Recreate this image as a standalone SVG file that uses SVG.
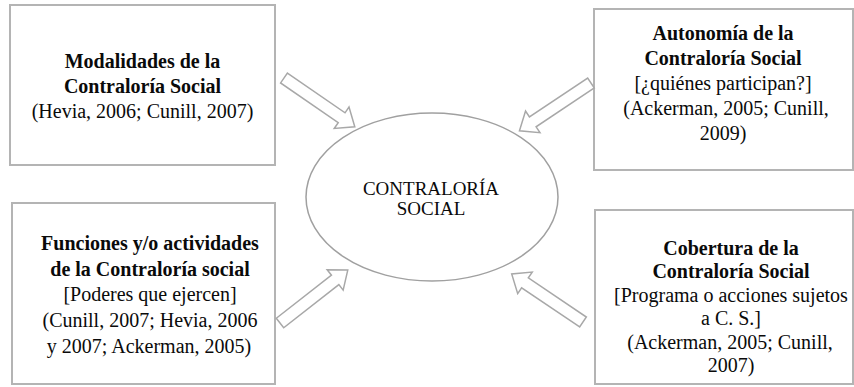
<svg xmlns="http://www.w3.org/2000/svg" width="854" height="387" viewBox="0 0 854 387">
<style>
.box{fill:#fff;stroke:#b4b4b4;stroke-width:2}
.ell{fill:#fff;stroke:#a0a0a0;stroke-width:1.5}
.arr{fill:#fff;stroke:#a8a8a8;stroke-width:1.5;stroke-linejoin:miter}
.t{font-family:'Liberation Serif','DejaVu Serif',serif;font-size:20px;fill:#0a0a0a;text-anchor:middle}
.b{font-weight:bold}
.c{font-size:19px}
</style>
<defs>
<polygon id="blk" points="0,-6 70,-6 70,-13 86,0 70,13 70,6 0,6"/>
</defs>
<rect width="854" height="387" fill="#fff"/>
<g id="n-modalidades" class="t" font-family="Liberation Serif, serif">
<rect class="box" x="10" y="5" width="265" height="160"/>
<text class="b" x="142.5" y="68">Modalidades de la</text>
<text class="b" x="142.5" y="93">Contraloría Social</text>
<text x="142.5" y="118">(Hevia, 2006; Cunill, 2007)</text>
</g>
<g id="n-autonomia" class="t" font-family="Liberation Serif, serif">
<rect class="box" x="594" y="9" width="259" height="161"/>
<text class="b" x="723" y="40">Autonomía de la</text>
<text class="b" x="723" y="65">Contraloría Social</text>
<text x="723" y="90">[¿quiénes participan?]</text>
<text x="726" y="115">(Ackerman, 2005; Cunill,</text>
<text x="723" y="140">2009)</text>
</g>
<g id="n-funciones" class="t" font-family="Liberation Serif, serif">
<rect class="box" x="12" y="203" width="263" height="181"/>
<text class="b" x="150" y="250">Funciones y/o actividades</text>
<text class="b" x="150" y="276">de la Contraloría social</text>
<text x="150" y="301">[Poderes que ejercen]</text>
<text x="150" y="327">(Cunill, 2007; Hevia, 2006</text>
<text x="149" y="353">y 2007; Ackerman, 2005)</text>
</g>
<g id="n-cobertura" class="t" font-family="Liberation Serif, serif">
<rect class="box" x="595" y="210" width="258" height="174"/>
<text class="b" x="731" y="255">Cobertura de la</text>
<text class="b" x="731" y="278">Contraloría Social</text>
<text x="731" y="302">[Programa o acciones sujetos</text>
<text x="731" y="325">a C. S.]</text>
<text x="730" y="349">(Ackerman, 2005; Cunill,</text>
<text x="731" y="372">2007)</text>
</g>
<g id="n-centro" class="t" font-family="Liberation Serif, serif">
<ellipse class="ell" cx="432" cy="197" rx="126" ry="84"/>
<text class="c" x="431" y="195">CONTRALORÍA</text>
<text class="c" x="431" y="215">SOCIAL</text>
</g>
<g id="connectors">
<use href="#blk" class="arr" transform="translate(284,78) rotate(34.6)"/>
<use href="#blk" class="arr" transform="translate(591,83) rotate(146.3)"/>
<use href="#blk" class="arr" transform="translate(280,323) rotate(-38)"/>
<use href="#blk" class="arr" transform="translate(583,322) rotate(214)"/>
</g>
</svg>
